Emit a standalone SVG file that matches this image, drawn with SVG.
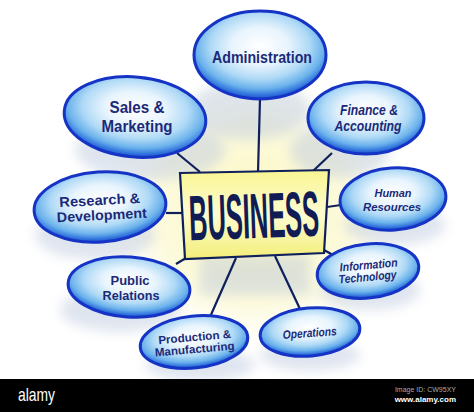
<svg xmlns="http://www.w3.org/2000/svg" width="474" height="412" viewBox="0 0 474 412">
<defs>
  <radialGradient id="glow" cx="0.5" cy="0.5" r="0.5">
    <stop offset="0" stop-color="#fbf6b0" stop-opacity="0.9"/>
    <stop offset="0.6" stop-color="#fbf7c8" stop-opacity="0.6"/>
    <stop offset="1" stop-color="#ffffff" stop-opacity="0"/>
  </radialGradient>
  <radialGradient id="bub" cx="0.5" cy="0.4" r="0.62">
    <stop offset="0" stop-color="#ffffff"/>
    <stop offset="0.35" stop-color="#e8f4fd"/>
    <stop offset="0.6" stop-color="#b0daf6"/>
    <stop offset="0.78" stop-color="#6bb2ec"/>
    <stop offset="0.9" stop-color="#2f72dc"/>
    <stop offset="1" stop-color="#1a3fc8"/>
  </radialGradient>
  <linearGradient id="box" x1="0" y1="0" x2="0" y2="1">
    <stop offset="0" stop-color="#f9f592"/>
    <stop offset="0.5" stop-color="#fdfcd0"/>
    <stop offset="1" stop-color="#f3ee78"/>
  </linearGradient>
  <filter id="blur" x="-30%" y="-30%" width="160%" height="160%">
    <feGaussianBlur stdDeviation="6"/>
  </filter>
  <style>
    .bub{fill:url(#bub);stroke:#1533c4;stroke-width:3}
    .lbl{font-family:"Liberation Sans",Arial,sans-serif;font-weight:bold;fill:#1b2a78;text-anchor:middle}
    .it{font-style:italic}
    .con{stroke:#0f1f5c;stroke-width:2.2;fill:none}
    .ghost{fill:#b9c6dc;opacity:0.45;filter:url(#blur)}
  </style>
</defs>
<rect width="474" height="412" fill="#ffffff"/>
<g id="background">
  <ellipse cx="255" cy="215" rx="165" ry="150" fill="url(#glow)"/>
  <ellipse class="ghost" cx="250" cy="110" rx="60" ry="30"/>
  <ellipse class="ghost" cx="150" cy="150" rx="75" ry="30"/>
  <ellipse class="ghost" cx="340" cy="150" rx="50" ry="28"/>
  <ellipse class="ghost" cx="95" cy="235" rx="60" ry="25"/>
  <ellipse class="ghost" cx="120" cy="310" rx="60" ry="22"/>
  <ellipse class="ghost" cx="200" cy="365" rx="55" ry="16"/>
  <ellipse class="ghost" cx="310" cy="355" rx="50" ry="16"/>
  <ellipse class="ghost" cx="370" cy="290" rx="50" ry="20"/>
  <ellipse class="ghost" cx="395" cy="225" rx="50" ry="20"/>
  <rect class="ghost" x="200" y="255" width="110" height="40"/>
</g>
<g id="connectors">
  <line class="con" x1="260" y1="99" x2="258" y2="172"/>
  <line class="con" x1="177" y1="153" x2="200" y2="172"/>
  <line class="con" x1="332" y1="153" x2="313" y2="171"/>
  <line class="con" x1="166" y1="213" x2="182" y2="213"/>
  <line class="con" x1="327" y1="207" x2="341" y2="205"/>
  <line class="con" x1="186" y1="258" x2="176" y2="264"/>
  <line class="con" x1="324" y1="250" x2="333" y2="255"/>
  <line class="con" x1="236" y1="258" x2="210" y2="317"/>
  <line class="con" x1="275" y1="256" x2="300" y2="309"/>
</g>
<g id="business">
  <polygon points="180,173 329,170 324,253 185,259" fill="url(#box)" stroke="#0f1f5c" stroke-width="2.2"/>
  <text class="lbl" x="254" y="238" font-size="64" style="fill:#111c55" textLength="130" lengthAdjust="spacingAndGlyphs" transform="rotate(-2 254 215)">BUSINESS</text>
</g>
<g id="administration">
  <ellipse class="bub" cx="260" cy="55" rx="66" ry="44"/>
  <text class="lbl" x="262" y="63" font-size="16" textLength="100" lengthAdjust="spacingAndGlyphs">Administration</text>
</g>
<g id="sales">
  <ellipse class="bub" cx="135" cy="117" rx="71" ry="40" transform="rotate(5 135 117)"/>
  <text class="lbl" x="137" y="113" font-size="16" textLength="55" lengthAdjust="spacingAndGlyphs">Sales &amp;</text>
  <text class="lbl" x="137" y="132" font-size="16" textLength="71" lengthAdjust="spacingAndGlyphs">Marketing</text>
</g>
<g id="finance">
  <ellipse class="bub" cx="366" cy="118" rx="58" ry="36"/>
  <text class="lbl it" x="369" y="115" font-size="15" textLength="58" lengthAdjust="spacingAndGlyphs">Finance &amp;</text>
  <text class="lbl it" x="368" y="131" font-size="15" textLength="67" lengthAdjust="spacingAndGlyphs">Accounting</text>
</g>
<g id="research">
  <ellipse class="bub" cx="100" cy="207" rx="66" ry="35" transform="rotate(-4 100 207)"/>
  <text class="lbl" x="100" y="205" font-size="14" textLength="81" lengthAdjust="spacingAndGlyphs" transform="rotate(-3 100 205)">Research &amp;</text>
  <text class="lbl" x="102" y="220" font-size="14" textLength="90" lengthAdjust="spacingAndGlyphs" transform="rotate(-3 102 220)">Development</text>
</g>
<g id="hr">
  <ellipse class="bub" cx="393" cy="199" rx="53" ry="31" transform="rotate(-4 393 199)"/>
  <text class="lbl it" x="393" y="197" font-size="11.5" textLength="37" lengthAdjust="spacingAndGlyphs">Human</text>
  <text class="lbl it" x="392" y="211" font-size="11.5" textLength="58" lengthAdjust="spacingAndGlyphs">Resources</text>
</g>
<g id="public">
  <ellipse class="bub" cx="129" cy="287" rx="61" ry="30" transform="rotate(4 129 287)"/>
  <text class="lbl" x="130" y="285" font-size="12.5" textLength="39" lengthAdjust="spacingAndGlyphs">Public</text>
  <text class="lbl" x="131" y="300" font-size="12.5" textLength="57" lengthAdjust="spacingAndGlyphs">Relations</text>
</g>
<g id="it">
  <ellipse class="bub" cx="368" cy="271" rx="51" ry="27" transform="rotate(-6 368 271)"/>
  <text class="lbl it" x="369" y="269" font-size="12" textLength="58" lengthAdjust="spacingAndGlyphs" transform="rotate(-5 369 269)">Information</text>
  <text class="lbl it" x="368" y="281" font-size="12" textLength="58" lengthAdjust="spacingAndGlyphs" transform="rotate(-5 368 281)">Technology</text>
</g>
<g id="production">
  <ellipse class="bub" cx="194" cy="342" rx="54" ry="26" transform="rotate(-6 194 342)"/>
  <text class="lbl" x="195" y="341" font-size="11.5" textLength="73" lengthAdjust="spacingAndGlyphs" transform="rotate(-5 195 341)">Production &amp;</text>
  <text class="lbl" x="195" y="353" font-size="11.5" textLength="80" lengthAdjust="spacingAndGlyphs" transform="rotate(-5 195 353)">Manufacturing</text>
</g>
<g id="operations">
  <ellipse class="bub" cx="310" cy="332" rx="50" ry="24" transform="rotate(-5 310 332)"/>
  <text class="lbl it" x="310" y="337" font-size="12" textLength="54" lengthAdjust="spacingAndGlyphs" transform="rotate(-4 310 337)">Operations</text>
</g>
<g id="footer">
  <rect x="0" y="379" width="474" height="33" fill="#000000"/>
  <text x="18" y="401" font-family="'Liberation Sans',Arial,sans-serif" font-size="19" fill="#ffffff" textLength="37" lengthAdjust="spacingAndGlyphs">alamy</text>
  <text x="456" y="392" font-family="'Liberation Sans',Arial,sans-serif" font-size="7" fill="#aaaaaa" text-anchor="end">Image ID: CW95XY</text>
  <text x="456" y="402" font-family="'Liberation Sans',Arial,sans-serif" font-size="8" font-weight="bold" fill="#ffffff" text-anchor="end">www.alamy.com</text>
</g>
</svg>
